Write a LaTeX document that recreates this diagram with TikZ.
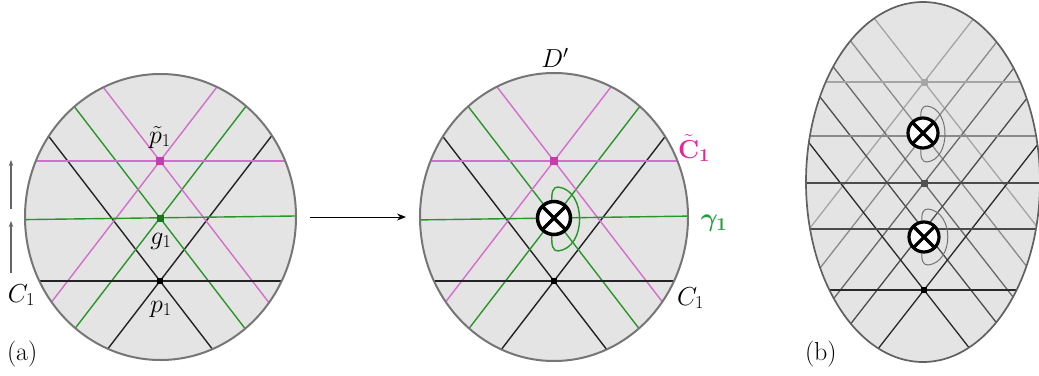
\documentclass[tikz,border=0pt]{standalone}
\usepackage{fix-cm}
\usepackage{amsmath,bm}
\usetikzlibrary{arrows.meta}
\definecolor{diskfill}{RGB}{228,228,228}
\definecolor{rimcol}{RGB}{118,118,118}
\definecolor{blkl}{RGB}{35,35,35}
\definecolor{grnl}{RGB}{40,150,40}
\definecolor{pnkl}{RGB}{214,108,204}
\definecolor{pnkpt}{RGB}{200,60,170}
\definecolor{grnpt}{RGB}{20,120,20}
\definecolor{labpink}{RGB}{228,40,150}
\definecolor{labgreen}{RGB}{30,160,60}
\definecolor{ca}{RGB}{40,40,40}
\definecolor{cb}{RGB}{75,75,75}
\definecolor{cc}{RGB}{105,105,105}
\definecolor{cd}{RGB}{138,138,138}
\definecolor{ce}{RGB}{165,165,165}
\tikzset{
  lab/.style={font=\fontsize{26}{28}\selectfont, inner sep=0pt, outer sep=0pt},
  blk/.style={draw=blkl, line width=1.4pt},
  grn/.style={draw=grnl, line width=1.4pt},
  pnk/.style={draw=pnkl, line width=1.4pt},
  pnkh/.style={draw=pnkl, line width=2.4pt},
  rim/.style={draw=rimcol, line width=2pt},
  dot/.style={rectangle, inner sep=0pt, outer sep=0pt, minimum size=7pt},
  otim/.style={circle, draw=black, fill=white, inner sep=0pt, outer sep=0pt},
}
% diagonal pair through (#1,#2), rise #3 per 200 run, style #4
\newcommand\diagpair[4]{%
  \draw[#4] (#1,#2) ++(-200,-#3) -- ++(400,2*#3);
  \draw[#4] (#1,#2) ++(-200,#3) -- ++(400,-2*#3);}
% otimes symbol: name, x, y, size, line width
\newcommand\otimesmark[5]{%
  \node[otim, minimum size=#4pt, line width=#5pt] (#1) at (#2,#3) {};
  \draw[line width=#5pt] (#1.north east) -- (#1.south west);
  \draw[line width=#5pt] (#1.north west) -- (#1.south east);}
% D-shaped curve: x, y, ry, rx, style
\newcommand\dcurve[5]{%
  \draw[#5] ({#1-2},{#2-0.45*#3}) .. controls ({#1-3},{#2-0.85*#3}) and ({#1-1},{#2-#3}) .. ({#1+4},{#2-#3})
    .. controls ({#1+4+1.2*#4},{#2-0.9*#3}) and ({#1+4+1.2*#4},{#2+0.9*#3}) .. ({#1+4},{#2+#3})
    .. controls ({#1-1},{#2+#3}) and ({#1-3},{#2+0.85*#3}) .. ({#1-2},{#2+0.45*#3});}
\begin{document}
\begin{tikzpicture}[x=1pt,y=-1pt]
\useasboundingbox (0,0) rectangle (1039,375);

% ---------------- panel (a) left disk ----------------
\coordinate (La) at (160.5,217);
\fill[diskfill] (La) ellipse [x radius=135.5, y radius=143];
\begin{scope}
  \clip (La) ellipse [x radius=135.5, y radius=143];
  \diagpair{160}{281}{260}{blk}
  \diagpair{160}{218}{260}{grn}
  \diagpair{160}{161}{260}{pnk}
  \draw[blk] (0,281) -- (320,281);
  \draw[grn] (10,219.8) -- (310,215.8);
  \draw[pnkh] (0,161) -- (320,161);
\end{scope}
\draw[rim] (La) ellipse [x radius=135.5, y radius=143];
\node[dot, fill=pnkpt, minimum size=8pt] (pt1) at (160,161) {};
\node[dot, fill=grnpt] (g1) at (160,218) {};
\node[dot, fill=black, minimum size=6.5pt] (p1) at (160,281) {};
\node[lab] (pt1lab) at (160,137) {$\tilde p_1$};
\node[lab] (g1lab) at (161,241) {$g_1$};
\node[lab] (p1lab) at (161,309) {$p_1$};
\node[lab, anchor=base west] (C1a) at (8,302) {$C_1$};
\node[lab, anchor=base west] (alab) at (7,360) {(a)};

% small vertical arrows
\coordinate (v1s) at (11,273);
\coordinate (v1e) at (11,221);
\coordinate (v2s) at (11,209);
\coordinate (v2e) at (11,160);
\draw[draw=black!60, line width=1.1pt, -{Stealth[length=6pt,width=4.5pt]}] (v1s) -- (v1e);
\draw[draw=black!60, line width=1.1pt, -{Stealth[length=6pt,width=4.5pt]}] (v2s) -- (v2e);

% main arrow
\coordinate (mas) at (310,217);
\coordinate (mae) at (406,217);
\draw[line width=1pt, -{Stealth[length=9pt,width=7pt]}] (mas) -- (mae);

% ---------------- middle disk ----------------
\coordinate (Ma) at (554,217);
\fill[diskfill] (Ma) ellipse [x radius=134, y radius=144];
\begin{scope}
  \clip (Ma) ellipse [x radius=134, y radius=144];
  \diagpair{554}{281}{260}{blk}
  \diagpair{554}{218}{260}{grn}
  \diagpair{554}{161}{260}{pnk}
  \draw[blk] (380,281) -- (720,281);
  \draw[grn] (400,220.2) -- (710,215.8);
  \draw[pnkh] (380,161) -- (720,161);
\end{scope}
\draw[rim] (Ma) ellipse [x radius=134, y radius=144];
\node[dot, fill=pnkpt, minimum size=8pt] (pt2) at (554,161) {};
\node[dot, fill=black, minimum size=6.5pt] (p2) at (554,281) {};
\dcurve{554}{219}{32}{24}{draw=grnl, line width=1.4pt}
\otimesmark{ot1}{554}{218}{33}{3.5}
\node[lab] (Dlab) at (555,58) {$D'$};
\node[lab, anchor=base west, text=labpink] (Ctl) at (678,158) {$\tilde{\mathbf{C}}_{\mathbf{1}}$};
\node[lab, text=labgreen] (gam) at (714,223) {$\bm{\gamma}_{\mathbf{1}}$};
\node[lab, anchor=base west] (C1b) at (677,305) {$C_1$};

% ---------------- panel (b) ----------------
\coordinate (Rb) at (923,182);
\fill[diskfill] (Rb) ellipse [x radius=117, y radius=180];
\begin{scope}
  \clip (Rb) ellipse [x radius=117, y radius=180];
  \diagpair{924}{82}{256}{draw=ce, line width=1.3pt}
  \diagpair{924}{135}{256}{draw=cd, line width=1.3pt}
  \diagpair{924}{183}{256}{draw=cc, line width=1.3pt}
  \diagpair{924}{230}{256}{draw=cb, line width=1.3pt}
  \diagpair{924}{290}{256}{draw=ca, line width=1.3pt}
  \draw[draw=ce, line width=1.7pt] (780,82) -- (1060,82);
  \draw[draw=cd, line width=1.7pt] (780,136) -- (1060,136);
  \draw[draw=cb, line width=1.7pt] (780,183) -- (1060,183);
  \draw[draw=cb, line width=1.7pt] (780,229) -- (1060,229);
  \draw[draw=ca, line width=1.7pt] (780,290) -- (1060,290);
\end{scope}
\draw[draw=black!62, line width=1.7pt] (Rb) ellipse [x radius=117, y radius=180];
\node[dot, fill=black!35] (q1) at (924,82) {};
\node[dot, fill=black!68] (q2) at (924,183) {};
\node[dot, fill=black, minimum size=6.5pt] (q3) at (924,290) {};
\dcurve{923}{134}{28}{20}{draw=black!55, line width=1pt}
\dcurve{924}{237}{28}{22}{draw=black!55, line width=1pt}
\otimesmark{ot2}{923}{133}{30}{3.2}
\otimesmark{ot3}{924}{237}{30}{3.2}
\node[lab, anchor=base west] (blab) at (805,360) {(b)};
\end{tikzpicture}
\end{document}
